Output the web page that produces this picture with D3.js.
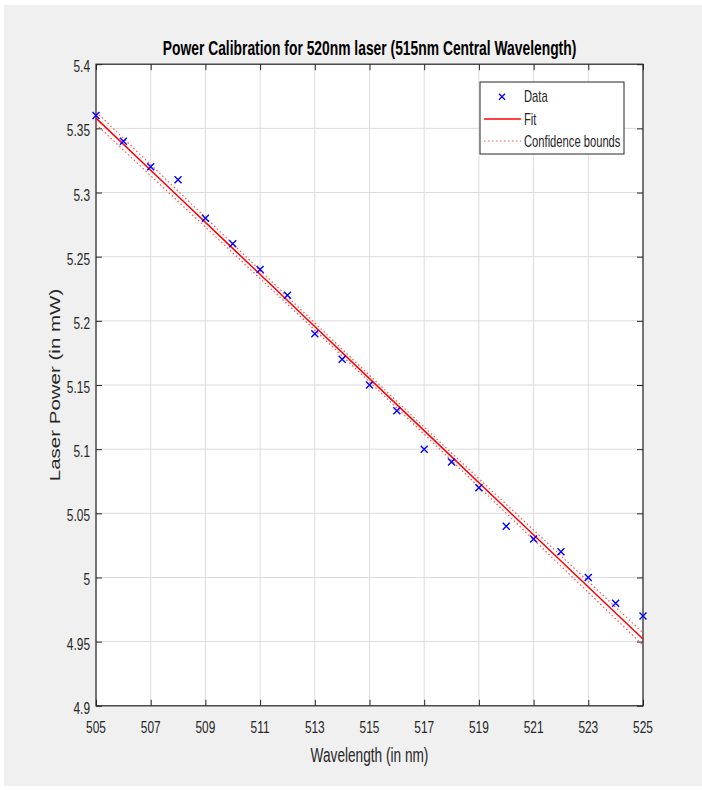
<!DOCTYPE html>
<html><head><meta charset="utf-8">
<script src="https://cdn.jsdelivr.net/npm/d3@7/dist/d3.min.js"></script>
<style>
html,body{margin:0;padding:0;background:#fff;}
text{font-family:"Liberation Sans",Arial,Helvetica,sans-serif;}
</style></head>
<body>
<script>
// ---- data ----
const wavelengths = [505,506,507,508,509,510,511,512,513,514,515,516,517,518,519,520,521,522,523,524,525];
const power       = [5.36,5.34,5.32,5.31,5.28,5.26,5.24,5.22,5.19,5.17,5.15,5.13,5.10,5.09,5.07,5.04,5.03,5.02,5.00,4.98,4.97];
const fitX        = [505,510,515,520,525];
const fitY        = [5.358,5.2565,5.155,5.0535,4.952];
const upperBound  = [5.3628,5.2600,5.1576,5.0570,4.9568];
const lowerBound  = [5.3532,5.2530,5.1524,5.0500,4.9472];
const xTicks      = [505,507,509,511,513,515,517,519,521,523,525];
const yTicks      = [4.9,4.95,5,5.05,5.1,5.15,5.2,5.25,5.3,5.35,5.4];
const legendItems = ["Data","Fit","Confidence bounds"];
const titleText   = "Power Calibration for 520nm laser (515nm Central Wavelength)";
const xLabel      = "Wavelength (in nm)";
const yLabel      = "Laser Power (in mW)";

const W = 702, H = 790;
const L = 96, R = 643, T = 64.2, B = 705.8;
const SX = 0.7; // horizontal text compression of the original picture
const axisCol = "#262626";

const svg = d3.select("body").append("svg").attr("width", W).attr("height", H);
svg.append("rect").attr("x",4).attr("y",5).attr("width",W-4).attr("height",781).attr("fill","#f0f0f0");

const x = d3.scaleLinear().domain([505,525]).range([L,R]);
const y = d3.scaleLinear().domain([4.9,5.4]).range([B,T]);

svg.append("rect").attr("x",L).attr("y",T).attr("width",R-L).attr("height",B-T).attr("fill","#fff");

// grid
const grid = svg.append("g").attr("stroke","#dcdcdc").attr("stroke-width",1);
xTicks.forEach(t=>grid.append("line").attr("x1",x(t)).attr("x2",x(t)).attr("y1",T).attr("y2",B));
yTicks.forEach(t=>grid.append("line").attr("y1",y(t)).attr("y2",y(t)).attr("x1",L).attr("x2",R));

// axes using d3 axis (ticks inward)
const fmt = v => String(+v.toFixed(2));
function styleAxis(g){
  g.select(".domain").remove();
  g.selectAll(".tick line").attr("stroke",axisCol).attr("stroke-width",1);
}
svg.append("g").attr("transform",`translate(0,${B})`)
  .call(d3.axisBottom(x).tickValues(xTicks).tickSize(-6).tickFormat(""))
  .call(styleAxis);
svg.append("g").attr("transform",`translate(0,${T})`)
  .call(d3.axisTop(x).tickValues(xTicks).tickSize(-6).tickFormat(""))
  .call(styleAxis);
svg.append("g").attr("transform",`translate(${L},0)`)
  .call(d3.axisLeft(y).tickValues(yTicks).tickSize(-6).tickFormat(""))
  .call(styleAxis);
svg.append("g").attr("transform",`translate(${R},0)`)
  .call(d3.axisRight(y).tickValues(yTicks).tickSize(-6).tickFormat(""))
  .call(styleAxis);

// box
svg.append("rect").attr("x",L).attr("y",T).attr("width",R-L).attr("height",B-T)
  .attr("fill","none").attr("stroke",axisCol).attr("stroke-width",1.2);

// tick labels (compressed)
function ctext(px, py, str, opts){
  const g = svg.append("g").attr("transform",`translate(${px},${py}) scale(${SX},1)`);
  return g.append("text").text(str)
    .attr("font-size",opts.size).attr("text-anchor",opts.anchor||"middle")
    .attr("font-weight",opts.weight||"normal").attr("fill",opts.fill||"#262626");
}
xTicks.forEach(t=>ctext(x(t),733,fmt(t),{size:17}));
yTicks.forEach(t=>ctext(90,y(t)+8,fmt(t),{size:17,anchor:"end"}));

// title & labels
ctext((L+R)/2,55,titleText,{size:19.8,weight:"bold",fill:"#000"});
ctext((L+R)/2,762,xLabel,{size:19.5});
svg.append("g").attr("transform",`translate(60,${(T+B)/2}) rotate(-90) scale(1,${SX})`)
  .append("text").text(yLabel).attr("font-size",20.5).attr("text-anchor","middle").attr("fill","#262626");

// plot content clipped to axes
const clip = svg.append("clipPath").attr("id","pc").append("rect")
  .attr("x",L-6).attr("y",T).attr("width",R-L+12).attr("height",B-T);
const plot = svg.append("g").attr("clip-path","url(#pc)");

const line = d3.line().x(d=>x(d[0])).y(d=>y(d[1])).curve(d3.curveNatural);
[upperBound, lowerBound].forEach(arr=>{
  plot.append("path").datum(fitX.map((v,i)=>[v,arr[i]])).attr("d",line)
    .attr("fill","none").attr("stroke","#ff3030").attr("stroke-width",1.2)
    .attr("stroke-dasharray","1.5,2.5").attr("opacity",0.85);
});
plot.append("path").datum(fitX.map((v,i)=>[v,fitY[i]])).attr("d",line)
  .attr("fill","none").attr("stroke","#ff0000").attr("stroke-width",1.5);

const s = 3.5;
plot.selectAll("path.mk").data(wavelengths.map((v,i)=>[v,power[i]])).enter().append("path")
  .attr("class","mk")
  .attr("d",d=>{const cx=x(d[0]), cy=y(d[1]); return `M${cx-s},${cy-s}L${cx+s},${cy+s}M${cx-s},${cy+s}L${cx+s},${cy-s}`;})
  .attr("stroke","#0000ff").attr("stroke-width",1.4).attr("fill","none");

// legend
const lg = svg.append("g");
lg.append("rect").attr("x",480).attr("y",82).attr("width",144).attr("height",72)
  .attr("fill","#fff").attr("stroke",axisCol).attr("stroke-width",1);
const rowY = [96.7,119,141];
const mx = 502, ms = 3;
lg.append("path").attr("d",`M${mx-ms},${rowY[0]-ms}L${mx+ms},${rowY[0]+ms}M${mx-ms},${rowY[0]+ms}L${mx+ms},${rowY[0]-ms}`)
  .attr("stroke","#0000ff").attr("stroke-width",1.3);
lg.append("line").attr("x1",484).attr("x2",521).attr("y1",rowY[1]).attr("y2",rowY[1])
  .attr("stroke","#ff0000").attr("stroke-width",1.5);
lg.append("line").attr("x1",484).attr("x2",521).attr("y1",rowY[2]).attr("y2",rowY[2])
  .attr("stroke","#ff3030").attr("stroke-width",1.2).attr("stroke-dasharray","1.5,2.5").attr("opacity",0.85);
legendItems.forEach((t,i)=>ctext(524,rowY[i]+5.5,t,{size:16,anchor:"start"}));
</script>
</body></html>
